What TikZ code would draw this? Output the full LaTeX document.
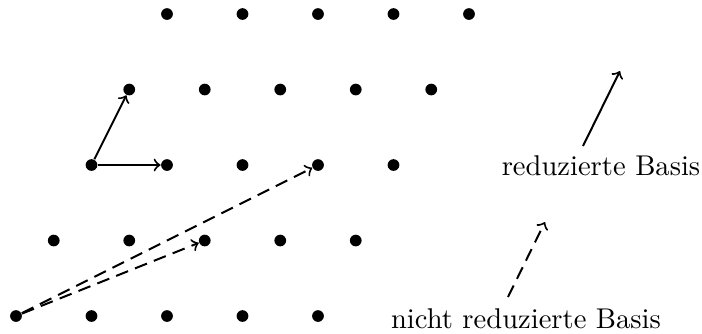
\documentclass[tikz,border=0pt]{standalone}
\usetikzlibrary{calc}
\begin{document}
\begin{tikzpicture}[x=0.35pt,y=-0.35pt,
  dot/.style={circle,fill=black,inner sep=0pt,minimum size=4.1pt},
  vec/.style={line width=0.7pt,->},
  dvec/.style={line width=0.7pt,->,dash pattern=on 4.5pt off 2.6pt},
  lbl/.style={anchor=base,inner sep=0pt,font=\fontsize{10pt}{12pt}\selectfont}]
\useasboundingbox (0,0) rectangle (702,333);
\foreach \r in {0,...,4}{
  \foreach \c in {0,...,4}{
    \node[dot] (d\r\c) at ({16+37.75*\r+75.5*\c},{316-75.5*\r}) {};
  }
}
% reduced basis
\draw[vec] (d20) -- (d21);
\draw[vec] (d20) -- (d30);
% non-reduced basis
\draw[dvec] (d00) -- (d12);
\draw[dvec] (d00) -- (d23);
% legend
\coordinate (ra) at (583,146);
\coordinate (rb) at (620,71);
\draw[vec] (ra) -- (rb);
\node[lbl] (rl) at (601,175) {reduzierte Basis};
\coordinate (na) at (508,297);
\coordinate (nb) at (545,222);
\draw[dvec] (na) -- (nb);
\node[lbl] (nl) at (526,328) {nicht reduzierte Basis};
\end{tikzpicture}
\end{document}
